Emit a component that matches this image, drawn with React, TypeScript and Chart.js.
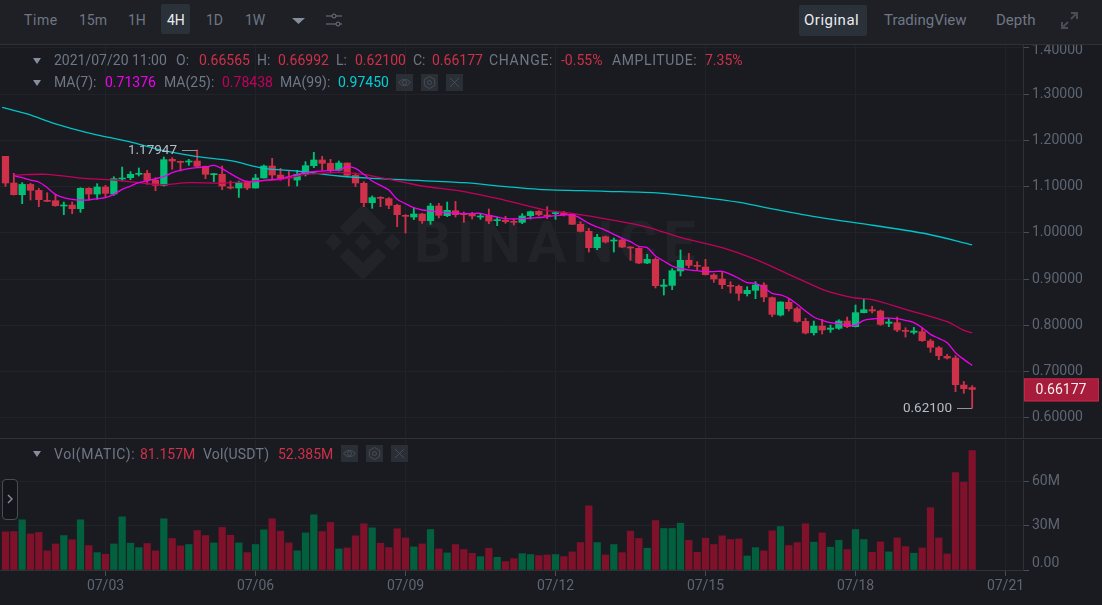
import React, { useEffect, useRef } from "react";
import { Chart, registerables } from "chart.js";
Chart.register(...registerables);

const opens = [
	1.1657, 1.108, 1.0828, 1.105, 1.0922, 1.0706, 1.0698, 1.0583, 1.0604, 1.0525,
	1.0965, 1.0842, 1.0994, 1.0842, 1.1167, 1.1196, 1.1268, 1.129, 1.1138, 1.103,
	1.1592, 1.1542, 1.1535, 1.1556, 1.1441, 1.1261, 1.1268, 1.0994, 1.0972, 1.1095,
	1.0972, 1.1189, 1.1448, 1.1253, 1.121, 1.1145, 1.1268, 1.1455, 1.1578, 1.1506,
	1.1355, 1.1513, 1.1247, 1.1074, 1.0655, 1.0771, 1.0742, 1.0598, 1.0381, 1.0345,
	1.041, 1.0266, 1.0583, 1.0374, 1.0482, 1.0425, 1.0403, 1.0345, 1.0381, 1.0266,
	1.0273, 1.0252, 1.023, 1.0374, 1.0468, 1.0389, 1.0418, 1.0439, 1.0403, 1.0187,
	1.0035, 0.9682, 0.992, 0.9826, 0.9848, 0.9696, 0.9668, 0.935, 0.943, 0.8846,
	0.8867, 0.9178, 0.9408, 0.93, 0.9264, 0.9091, 0.9005, 0.8868, 0.8846, 0.8688,
	0.876, 0.8875, 0.8601, 0.8226, 0.85, 0.8363, 0.8089, 0.7844, 0.7988, 0.7916,
	0.7938, 0.8096, 0.7974, 0.8277, 0.8341, 0.8313, 0.8046, 0.806, 0.7894, 0.7851,
	0.7866, 0.7664, 0.7519, 0.7332, 0.7296, 0.6712, 0.66565,
];
const closes = [
	1.108, 1.0828, 1.105, 1.0922, 1.072, 1.0684, 1.059, 1.0604, 1.0525, 1.0965,
	1.0842, 1.0994, 1.0857, 1.1174, 1.1189, 1.1268, 1.129, 1.1138, 1.103, 1.1585,
	1.1556, 1.1527, 1.1556, 1.1441, 1.1268, 1.1275, 1.1015, 1.0972, 1.1087, 1.0972,
	1.1189, 1.1448, 1.1253, 1.1181, 1.1189, 1.1268, 1.1455, 1.1578, 1.1506, 1.1347,
	1.1513, 1.1247, 1.1081, 1.0655, 1.0764, 1.0749, 1.0598, 1.0396, 1.036, 1.041,
	1.0266, 1.0583, 1.0381, 1.049, 1.0396, 1.0396, 1.0367, 1.0367, 1.0259, 1.0288,
	1.0245, 1.023, 1.0367, 1.046, 1.0396, 1.0367, 1.0439, 1.0396, 1.0187, 1.0035,
	0.9682, 0.9906, 0.9805, 0.9848, 0.9696, 0.9675, 0.935, 0.943, 0.886, 0.8875,
	0.9185, 0.9408, 0.93, 0.9279, 0.9098, 0.9005, 0.8882, 0.8846, 0.8695, 0.876,
	0.8875, 0.8615, 0.824, 0.8507, 0.8363, 0.8089, 0.7837, 0.7988, 0.7902, 0.7945,
	0.8096, 0.7974, 0.8277, 0.8341, 0.8313, 0.8024, 0.8075, 0.7902, 0.7873, 0.788,
	0.7671, 0.7527, 0.7346, 0.7296, 0.6719, 0.6633, 0.66177,
];
const highs = [
	1.1657, 1.129, 1.1087, 1.1073, 1.0965, 1.0871, 1.0835, 1.0669, 1.0669, 1.0979,
	1.0979, 1.1066, 1.103, 1.1217, 1.1426, 1.1326, 1.1405, 1.1354, 1.1196, 1.1643,
	1.1628, 1.1556, 1.1592, 1.17947, 1.1448, 1.129, 1.1448, 1.1124, 1.1124, 1.1124,
	1.1268, 1.147, 1.1614, 1.1398, 1.1354, 1.1354, 1.1542, 1.1744, 1.1657, 1.1592,
	1.1557, 1.1513, 1.1297, 1.111, 1.08, 1.0785, 1.0764, 1.062, 1.0396, 1.0533,
	1.0425, 1.0641, 1.0641, 1.067, 1.0684, 1.0454, 1.0446, 1.0425, 1.0518, 1.0345,
	1.036, 1.0302, 1.0418, 1.0475, 1.0482, 1.0569, 1.0468, 1.0468, 1.0425, 1.0245,
	1.01, 0.9971, 0.9935, 0.9891, 0.987, 0.9704, 0.9682, 0.9538, 0.9466, 0.8997,
	0.9228, 0.9632, 0.956, 0.938, 0.943, 0.912, 0.9149, 0.8947, 0.8875, 0.8839,
	0.8947, 0.8925, 0.8615, 0.8515, 0.8565, 0.8399, 0.8154, 0.8096, 0.8132, 0.801,
	0.8125, 0.8183, 0.8442, 0.8572, 0.8414, 0.8334, 0.8147, 0.8183, 0.7952, 0.7959,
	0.7952, 0.77, 0.7548, 0.7375, 0.7346, 0.6791, 0.66992,
];
const lows = [
	1.1008, 1.082, 1.0633, 1.0713, 1.0568, 1.0677, 1.0576, 1.0395, 1.0417, 1.0446,
	1.0727, 1.0727, 1.0785, 1.0814, 1.1124, 1.1152, 1.1232, 1.1052, 1.0914, 1.1015,
	1.1376, 1.134, 1.1462, 1.1426, 1.1174, 1.1109, 1.0936, 1.095, 1.077, 1.0936,
	1.0972, 1.1189, 1.116, 1.1138, 1.1015, 1.1015, 1.1232, 1.1412, 1.1369, 1.1297,
	1.134, 1.121, 1.1002, 1.0569, 1.0533, 1.0569, 1.0526, 1.0136, 0.9999, 1.0288,
	1.0208, 1.0187, 1.0324, 1.0353, 1.0345, 1.023, 1.0302, 1.0295, 1.0201, 1.0158,
	1.0208, 1.0172, 1.0201, 1.0302, 1.0367, 1.0309, 1.0295, 1.0367, 1.018, 1.0021,
	0.9588, 0.9639, 0.9783, 0.9588, 0.9682, 0.9408, 0.9336, 0.9336, 0.881, 0.8658,
	0.8774, 0.907, 0.925, 0.9207, 0.9091, 0.8933, 0.8796, 0.8702, 0.8543, 0.8637,
	0.8579, 0.8515, 0.819, 0.8204, 0.8313, 0.8067, 0.7815, 0.7793, 0.7815, 0.7851,
	0.7916, 0.7952, 0.7967, 0.827, 0.827, 0.8003, 0.7974, 0.7866, 0.775, 0.7815,
	0.7656, 0.7419, 0.726, 0.7274, 0.6568, 0.6532, 0.621,
];
const volumes = [
	25.9, 26.1, 34.1, 24.5, 25.5, 13, 17.7, 23.4, 20.5, 34.1,
	16.6, 11.8, 10.7, 17.7, 36.1, 18.2, 15.2, 18, 13, 34.8,
	21.4, 16.4, 17.3, 26.8, 23.4, 18.4, 28.9, 23.6, 18.4, 11.8,
	17.3, 27.3, 34.8, 26.4, 18.4, 13, 25.2, 37.5, 26.1, 32.3,
	14.3, 15, 23.2, 31.4, 28.6, 18.2, 15.2, 28, 21.8, 15.7,
	17.7, 27.5, 14.3, 11.6, 17.3, 13.9, 11.4, 9.1, 14.8, 8.6,
	5.7, 7.7, 11.1, 10.5, 9.8, 10.2, 10.5, 9.1, 12.3, 18.6,
	43.6, 18.6, 10.2, 17.3, 11.8, 26.4, 21.4, 14.8, 33.6, 28.2,
	28.2, 31.8, 20.2, 12, 21.6, 17.3, 23.2, 20.7, 21.1, 9.5,
	15.2, 13, 26.6, 29.5, 16.6, 18.6, 31.4, 18.9, 25.2, 15.5,
	20.2, 13.9, 27.5, 20.7, 12, 19.1, 12.3, 21.8, 15.9, 11.4,
	15, 42.3, 21.8, 10.9, 66.1, 59.6, 81.157,
];

// moving averages, first one starts at candle 1
const ma7 = [
	1.1239, 1.1196, 1.1145, 1.1102, 1.098, 1.0835, 1.0763, 1.0727, 1.0713,
	1.0713, 1.0741, 1.0763, 1.0835, 1.0943, 1.1015, 1.1087, 1.1124, 1.1174, 1.1217,
	1.1304, 1.1354, 1.139, 1.1412, 1.1426, 1.1462, 1.139, 1.1282, 1.1181, 1.1109,
	1.1109, 1.1138, 1.1152, 1.1174, 1.1217, 1.1268, 1.1304, 1.1325, 1.134, 1.1354,
	1.1361, 1.1434, 1.1398, 1.1268, 1.1124, 1.103, 1.0929, 1.0728, 1.0634, 1.0547,
	1.0497, 1.0475, 1.0453, 1.0439, 1.0432, 1.0418, 1.0418, 1.0425, 1.0381, 1.0345,
	1.0309, 1.0302, 1.0309, 1.0324, 1.0331, 1.0353, 1.0374, 1.0389, 1.0389, 1.0317,
	1.0208, 1.0129, 1.0057, 0.9971, 0.9884, 0.9812, 0.971, 0.9682, 0.9502, 0.9394,
	0.9286, 0.9228, 0.92, 0.9185, 0.9163, 0.9163, 0.917, 0.9106, 0.9019, 0.8925,
	0.8911, 0.8817, 0.8695, 0.8659, 0.8587, 0.8457, 0.8313, 0.8183, 0.8111, 0.806,
	0.8039, 0.8003, 0.801, 0.8111, 0.814, 0.8154, 0.8161, 0.8147, 0.8111, 0.806,
	0.7952, 0.7808, 0.7721, 0.7628, 0.7411, 0.7267, 0.71376,
];
const ma25Index = [1, 5, 9, 13, 17, 19, 22, 26, 30, 33, 36, 38, 40, 43, 45, 48, 50, 55, 60, 65, 68, 73, 77, 81, 86, 90, 94, 98, 100, 102, 104, 108, 113, 115, 116];
const ma25 = [
	1.1253, 1.1268, 1.1188, 1.1145, 1.1066, 1.1044, 1.1087, 1.108, 1.1124, 1.1152, 1.1268, 1.129,
	1.131, 1.1268, 1.1196, 1.1088, 1.1016, 1.0893, 1.0706, 1.049, 1.0425, 1.0273, 1.0129, 0.9905,
	0.9682, 0.943, 0.9106, 0.8781, 0.8673, 0.8594, 0.8558, 0.8349, 0.8082, 0.7894, 0.78438,
];
const ma99Index = [-0.4, 2.6, 6, 9.8, 15.3, 19, 23, 27, 31, 35, 40, 44, 48, 55, 60, 64, 72, 78.5, 83.3, 88.1, 92, 98, 104, 110.6, 116];
const ma99 = [
	1.2718, 1.2573, 1.2357, 1.2169, 1.1953, 1.178, 1.165, 1.1563, 1.1398, 1.134, 1.1232, 1.1182,
	1.1146, 1.1088, 1.1002, 1.0944, 1.0901, 1.0862, 1.0775, 1.066, 1.052, 1.0326, 1.0167, 0.9978, 0.9745,
];

const priceTicks = [1.4, 1.3, 1.2, 1.1, 1.0, 0.9, 0.8, 0.7, 0.6];
const volumeTicks = [0, 30, 60];
const dayTicks = [12, 30, 48, 66, 84, 102, 120];
const dayLabels = ["07/03", "07/06", "07/09", "07/12", "07/15", "07/18", "07/21"];

const highMark = { index: 23, value: 1.17947, label: "1.17947" };
const lowMark = { index: 116, value: 0.621, label: "0.62100" };
const lastPrice = 0.66177;

const UP = "#02c076";
const DOWN = "#cf304a";
const UP_VOL = "#02603f";
const DOWN_VOL = "#80112b";
const BG = "#191b20";
const GRID = "#212329";
const AXIS = "#2e3138";
const TICK_TEXT = "#5e6673";
const FONT = "Roboto, sans-serif";
const DIM = "#6f7785";

const isUp = (i: number) => closes[i] >= opens[i];

const noPadding = (s: any) => {
	s.paddingTop = 0;
	s.paddingBottom = 0;
	s.paddingLeft = 0;
	s.paddingRight = 0;
};

const sharedX = {
	type: "linear" as const,
	min: -0.66,
	max: 122.1,
	offset: false,
	afterBuildTicks: (s: any) => {
		s.ticks = dayTicks.map((value) => ({ value }));
	},
};

const priceMarks = {
	id: "priceMarks",
	afterDatasetsDraw(chart: any) {
		const { ctx, scales } = chart;
		const x = scales.x;
		const y = scales.y;
		ctx.save();
		ctx.font = `13.5px ${FONT}`;
		ctx.textBaseline = "middle";
		ctx.textAlign = "right";
		ctx.fillStyle = "#b7bdc6";
		ctx.strokeStyle = "#8f949c";
		ctx.lineWidth = 1;

		const hx = Math.round(x.getPixelForValue(highMark.index));
		const hy = Math.round(y.getPixelForValue(highMark.value)) + 0.5;
		ctx.fillText(highMark.label, hx - 20, hy);
		ctx.beginPath();
		ctx.moveTo(hx - 15, hy);
		ctx.lineTo(hx, hy);
		ctx.stroke();

		const lx = Math.round(x.getPixelForValue(lowMark.index));
		const ly = Math.round(y.getPixelForValue(lowMark.value)) + 0.5;
		ctx.fillText(lowMark.label, lx - 20, ly);
		ctx.beginPath();
		ctx.moveTo(lx - 15, ly);
		ctx.lineTo(lx, ly);
		ctx.stroke();

		// top axis label sits a little under its tick so the toolbar does not cut it
		ctx.font = `14px ${FONT}`;
		ctx.fillStyle = TICK_TEXT;
		ctx.textAlign = "left";
		ctx.fillText(priceTicks[0].toFixed(5), 1032, y.getPixelForValue(priceTicks[0]) + 3);

		// last price box on the axis
		const py = y.getPixelForValue(lastPrice);
		ctx.fillStyle = "#a81c3b";
		ctx.fillRect(1024, py - 11, 75, 23);
		ctx.strokeStyle = "#c4274a";
		ctx.strokeRect(1024.5, py - 10.5, 74, 22);
		ctx.fillStyle = "#f0f0f0";
		ctx.textAlign = "center";
		ctx.fillText(lastPrice.toFixed(5), 1061, py + 1);
		ctx.restore();
	},
};

const zeroLabel = {
	id: "zeroLabel",
	afterDraw(chart: any) {
		const { ctx, scales } = chart;
		ctx.save();
		ctx.font = `14px ${FONT}`;
		ctx.fillStyle = TICK_TEXT;
		ctx.textBaseline = "middle";
		ctx.textAlign = "left";
		ctx.fillText("0.00", 1032, scales.y.getPixelForValue(0) - 7);
		ctx.restore();
	},
};

const PriceChart: React.FC = () => {
	const ref = useRef<HTMLCanvasElement | null>(null);
	useEffect(() => {
		if (!ref.current) return;
		const chart = new Chart(ref.current, {
			type: "bar",
			plugins: [priceMarks],
			data: {
				datasets: [
					{
						type: "line",
						data: ma7.map((y, i) => ({ x: i + 1, y })),
						borderColor: "#f000f0",
						borderWidth: 1.3,
						pointRadius: 0,
						tension: 0.3,
						order: 1,
					},
					{
						type: "line",
						data: ma25.map((y, i) => ({ x: ma25Index[i], y })),
						borderColor: "#c4005e",
						borderWidth: 1.3,
						pointRadius: 0,
						tension: 0.3,
						order: 2,
					},
					{
						type: "line",
						data: ma99.map((y, i) => ({ x: ma99Index[i], y })),
						borderColor: "#00c4c8",
						borderWidth: 1.3,
						pointRadius: 0,
						tension: 0.3,
						order: 3,
					},
					{
						type: "bar",
						data: opens.map((o, i) => ({ x: i, y: [o, closes[i]] })),
						backgroundColor: opens.map((_, i) => (isUp(i) ? UP : DOWN)),
						barThickness: 6.6,
						minBarLength: 1,
						grouped: false,
						order: 4,
					},
					{
						type: "bar",
						data: lows.map((l, i) => ({ x: i, y: [l, highs[i]] })),
						backgroundColor: lows.map((_, i) => (isUp(i) ? UP : DOWN)),
						barThickness: 1.2,
						grouped: false,
						order: 5,
					},
				] as any,
			},
			options: {
				responsive: false,
				animation: false,
				events: [],
				layout: { padding: 0 },
				plugins: { legend: { display: false }, tooltip: { enabled: false } },
				scales: {
					x: {
						...sharedX,
						grid: { color: GRID, offset: false, drawTicks: false },
						border: { display: false },
						ticks: { display: false },
						afterFit: (s: any) => {
							s.height = 0;
							noPadding(s);
						},
					},
					y: {
						position: "right",
						min: 0.5567,
						max: 1.4086,
						afterBuildTicks: (s: any) => {
							s.ticks = priceTicks.map((value) => ({ value }));
						},
						afterFit: (s: any) => {
							s.width = 79;
							noPadding(s);
						},
						grid: { color: GRID, tickColor: "#474d57", tickLength: 6 },
						border: { color: AXIS },
						ticks: {
							color: TICK_TEXT,
							font: { family: FONT, size: 14 },
							padding: 3,
							callback: (v: any) => (v === priceTicks[0] ? "" : Number(v).toFixed(5)),
						},
					},
				},
			} as any,
		});
		return () => chart.destroy();
	}, []);
	return <canvas ref={ref} width={1102} height={394} style={{ position: "absolute", left: 0, top: 44 }} />;
};

const VolumeChart: React.FC = () => {
	const ref = useRef<HTMLCanvasElement | null>(null);
	useEffect(() => {
		if (!ref.current) return;
		const chart = new Chart(ref.current, {
			type: "bar",
			plugins: [zeroLabel],
			data: {
				datasets: [
					{
						data: volumes.map((y, i) => ({ x: i, y })),
						backgroundColor: volumes.map((_, i) => (isUp(i) ? UP_VOL : DOWN_VOL)),
						barThickness: 6.6,
					},
				] as any,
			},
			options: {
				responsive: false,
				animation: false,
				events: [],
				layout: { padding: 0 },
				plugins: { legend: { display: false }, tooltip: { enabled: false } },
				scales: {
					x: {
						...sharedX,
						grid: { color: GRID, offset: false, tickColor: "#474d57", tickLength: 6 },
						border: { color: AXIS },
						ticks: {
							color: TICK_TEXT,
							font: { family: FONT, size: 14 },
							padding: 2,
							autoSkip: false,
							maxRotation: 0,
							callback: (v: any) => dayLabels[dayTicks.indexOf(v)],
						},
						afterFit: (s: any) => {
							s.height = 35;
							noPadding(s);
						},
					},
					y: {
						position: "right",
						min: 0,
						max: 88.3,
						afterBuildTicks: (s: any) => {
							s.ticks = volumeTicks.map((value) => ({ value }));
						},
						afterFit: (s: any) => {
							s.width = 79;
							noPadding(s);
						},
						grid: { color: GRID, tickColor: "#474d57", tickLength: 6 },
						border: { color: AXIS },
						ticks: {
							color: TICK_TEXT,
							font: { family: FONT, size: 14 },
							padding: 3,
							callback: (v: any) => (v === 0 ? "" : `${v}M`),
						},
					},
				},
			} as any,
		});
		return () => chart.destroy();
	}, []);
	return <canvas ref={ref} width={1102} height={165} style={{ position: "absolute", left: 0, top: 440 }} />;
};

const Txt: React.FC<{ x: number; y: number; c?: string; s?: number; ls?: number; t: string }> = ({ x, y, c = DIM, s = 14, ls = 0, t }) => (
	<span style={{ position: "absolute", left: x, top: y - 10, lineHeight: "20px", color: c, fontSize: s, letterSpacing: ls, whiteSpace: "nowrap" }}>{t}</span>
);

const Tri: React.FC<{ x: number; y: number; w?: number }> = ({ x, y, w = 8 }) => (
	<svg style={{ position: "absolute", left: x, top: y }} width={w} height={6}>
		<polygon points={`0,0 ${w},0 ${w / 2},6`} fill="#848e9c" />
	</svg>
);

const IconBox: React.FC<{ x: number; y: number; kind: string }> = ({ x, y, kind }) => (
	<svg style={{ position: "absolute", left: x, top: y }} width={17} height={17}>
		<rect width={17} height={17} fill="#2a2e35" />
		{kind === "eye" && (
			<g fill="none" stroke="#474d57" strokeWidth={1}>
				<path d="M2.5 8.5 Q8.5 2 14.5 8.5 Q8.5 15 2.5 8.5Z" />
				<circle cx={8.5} cy={8.5} r={2} />
			</g>
		)}
		{kind === "gear" && (
			<g fill="none" stroke="#474d57" strokeWidth={1}>
				<polygon points="8.5,2.5 13.7,5.5 13.7,11.5 8.5,14.5 3.3,11.5 3.3,5.5" />
				<circle cx={8.5} cy={8.5} r={2} />
			</g>
		)}
		{kind === "x" && <path d="M4 4 L13 13 M13 4 L4 13" stroke="#474d57" strokeWidth={1} />}
	</svg>
);

const Watermark: React.FC = () => (
	<>
		<svg style={{ position: "absolute", left: 325, top: 204 }} width={76} height={76} viewBox="0 0 126.61 126.61">
			<path
				fill="#212329"
				d="M38.73 53.2l24.59-24.58 24.6 24.6 14.3-14.31L63.32 0 24.42 38.9zM0 63.31l14.3-14.31 14.31 14.31-14.31 14.3zM38.73 73.41l24.59 24.59 24.6-24.6 14.31 14.29-38.9 38.91-38.91-38.88zM98 63.31l14.3-14.31 14.31 14.3-14.31 14.32zM77.83 63.3L63.32 48.78 52.59 59.51l-1.24 1.23-2.54 2.54 14.51 14.5 14.5-14.47z"
			/>
		</svg>
		<span style={{ position: "absolute", left: 414, top: 207, fontSize: 58, lineHeight: "70px", fontWeight: 700, letterSpacing: 6, color: "#212329" }}>BINANCE</span>
	</>
);

export default function App() {
	return (
		<div style={{ position: "fixed", left: 0, top: 0, width: 1102, height: 605, overflow: "hidden", background: BG, fontFamily: FONT }}>
			<Watermark />
			<PriceChart />
			<VolumeChart />

			{/* toolbar */}
			<div style={{ position: "absolute", left: 0, top: 0, width: 1102, height: 45, background: "#1e2026", borderBottom: `1px solid ${AXIS}`, boxSizing: "border-box" }} />
			<div style={{ position: "absolute", left: 161, top: 4, width: 29, height: 30, background: "#2b3139", borderRadius: 2 }} />
			<div style={{ position: "absolute", left: 799, top: 5, width: 68, height: 31, background: "#2b3139", borderRadius: 2 }} />
			<Txt x={24} y={20} t="Time" ls={0.6} />
			<Txt x={79} y={20} t="15m" />
			<Txt x={128} y={20} t="1H" />
			<Txt x={167} y={20} t="4H" c="#eaecef" />
			<Txt x={206} y={20} t="1D" />
			<Txt x={245} y={20} t="1W" />
			<Tri x={292} y={18} w={13} />
			<svg style={{ position: "absolute", left: 325, top: 12 }} width={18} height={16} fill="none" stroke="#6f7785" strokeWidth={1}>
				<path d="M1 4 H7 M11 4 H17 M1 12 H11 M15 12 H17" />
				<circle cx={9} cy={4} r={2} />
				<circle cx={13} cy={12} r={2} />
			</svg>
			<Txt x={804} y={20} t="Original" c="#eaecef" s={15} ls={0.5} />
			<Txt x={884} y={20} t="TradingView" s={15} />
			<Txt x={996} y={20} t="Depth" s={15} />
			<svg style={{ position: "absolute", left: 1061, top: 12 }} width={17} height={17} fill="none" stroke="#474d57" strokeWidth={2}>
				<path d="M10 1 H16 V7 M16 1 L10 7 M7 16 H1 V10 M1 16 L7 10" />
			</svg>

			{/* candle legend */}
			<Tri x={33} y={58} />
			<Txt x={54} y={60} t="2021/07/20 11:00" />
			<Txt x={176} y={60} t="O:" />
			<Txt x={199} y={60} t="0.66565" c="#cf304a" />
			<Txt x={257} y={60} t="H:" />
			<Txt x={278} y={60} t="0.66992" c="#cf304a" />
			<Txt x={336} y={60} t="L:" />
			<Txt x={355} y={60} t="0.62100" c="#cf304a" />
			<Txt x={413} y={60} t="C:" />
			<Txt x={432} y={60} t="0.66177" c="#cf304a" />
			<Txt x={489} y={60} t="CHANGE:" ls={0.7} />
			<Txt x={561} y={60} t="-0.55%" c="#cf304a" />
			<Txt x={612} y={60} t="AMPLITUDE:" ls={0.6} />
			<Txt x={705} y={60} t="7.35%" c="#cf304a" />

			<Tri x={33} y={80} />
			<Txt x={54} y={82} t="MA(7):" />
			<Txt x={105} y={82} t="0.71376" c="#f000f0" />
			<Txt x={164} y={82} t="MA(25):" />
			<Txt x={222} y={82} t="0.78438" c="#c4005e" />
			<Txt x={280} y={82} t="MA(99):" />
			<Txt x={338} y={82} t="0.97450" c="#00d0d4" />
			<IconBox x={396} y={74} kind="eye" />
			<IconBox x={421} y={74} kind="gear" />
			<IconBox x={446} y={74} kind="x" />

			{/* separator between panes */}
			<div style={{ position: "absolute", left: 0, top: 438, width: 1102, height: 1, background: AXIS }} />

			{/* volume legend */}
			<Tri x={33} y={451} />
			<Txt x={54} y={454} t="Vol(MATIC):" ls={0.6} />
			<Txt x={140} y={454} t="81.157M" c="#cf304a" />
			<Txt x={203} y={454} t="Vol(USDT)" ls={0.2} />
			<Txt x={278} y={454} t="52.385M" c="#cf304a" />
			<IconBox x={341} y={445} kind="eye" />
			<IconBox x={366} y={445} kind="gear" />
			<IconBox x={391} y={445} kind="x" />

			{/* side toggle */}
			<div style={{ position: "absolute", left: 2, top: 479, width: 14, height: 39, border: "1px solid #474d57", borderRadius: 4, background: "#14151a" }} />
			<svg style={{ position: "absolute", left: 6, top: 494 }} width={8} height={10} fill="none" stroke="#848e9c" strokeWidth={1.4}>
				<path d="M2 1 L6 5 L2 9" />
			</svg>
		</div>
	);
}
